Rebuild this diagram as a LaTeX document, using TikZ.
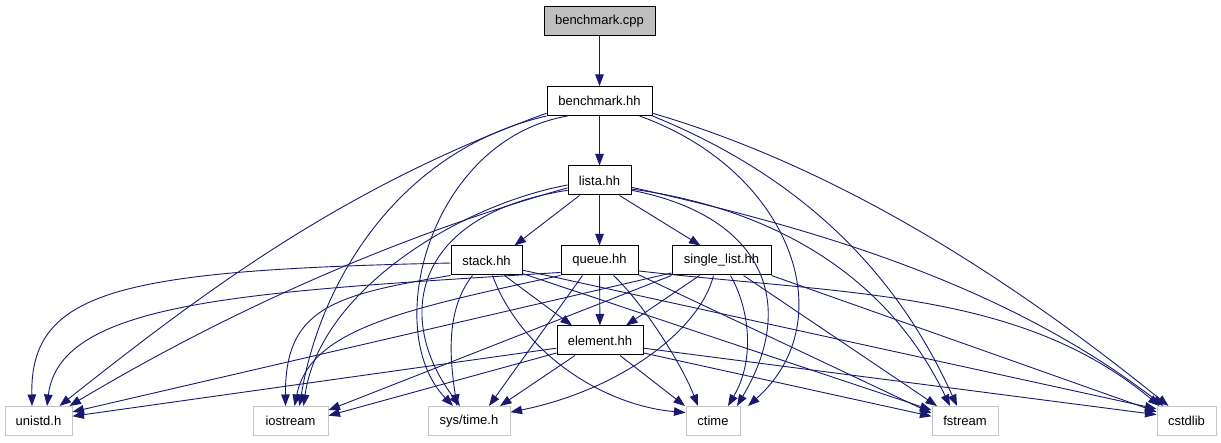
\documentclass[tikz,border=0pt]{standalone}
\usepackage{fontspec}
\setmainfont{Liberation Sans}
\usetikzlibrary{arrows.meta}
\definecolor{navy}{HTML}{191970}
\begin{document}
\begin{tikzpicture}[x = 1pt, y = 1pt, yscale = -1,
  file/.style = {draw = black, line width = 1pt, minimum height = 29pt, inner sep = 0pt,
    font = \fontsize{13}{15}\selectfont},
  sys/.style = {file, draw = gray!45},
  top/.style = {file, fill = gray!50},
  dep/.style = {draw = navy, line width = 0.9pt, -{Triangle[length = 11.5pt, width = 8.5pt]}}]
\useasboundingbox (0,0) rectangle (1221,443);
% include files
\node[top, minimum width = 111pt] (cpp) at (599.5,21) {benchmark.cpp};
\node[file, minimum width = 105pt] (bhh) at (599.5,101) {benchmark.hh};
\node[file, minimum width = 63pt] (lista) at (599.5,180.5) {lista.hh};
\node[file, minimum width = 71pt] (stack) at (486.5,260.5) {stack.hh};
\node[file, minimum width = 77pt] (queue) at (599.5,260.5) {queue.hh};
\node[file, minimum width = 99pt] (slist) at (721.5,260.5) {single\_list.hh};
\node[file, minimum width = 86pt] (elem) at (600,340.5) {element.hh};
% system headers
\node[sys, minimum width = 67pt] (unistd) at (38.5,421) {unistd.h};
\node[sys, minimum width = 75pt] (iostream) at (290.5,421) {iostream};
\node[sys, minimum width = 82pt] (systime) at (469,421) {sys/time.h};
\node[sys, minimum width = 54pt] (ctime) at (713,421) {ctime};
\node[sys, minimum width = 66pt] (fstream) at (965,421) {fstream};
\node[sys, minimum width = 59pt] (cstdlib) at (1186.5,421) {cstdlib};
% benchmark
\draw[dep] (cpp) -- (bhh);
\draw[dep] (bhh) -- (lista);
\draw[dep] (bhh.193) .. controls (348,185) and (212,285) .. ([xshift=21pt]unistd.north);
\draw[dep] (bhh.south west) .. controls (400,150) and (320,280) .. ([xshift=9pt]iostream.north);
\draw[dep] ([xshift=-32pt]bhh.south) .. controls (430,140) and (380,330) .. ([xshift=-16pt]systime.north);
\draw[dep] ([xshift=40pt]bhh.south) .. controls (790,170) and (845,320) .. ([xshift=35pt]ctime.north);
\draw[dep] (bhh.south east) .. controls (810,180) and (900,280) .. ([xshift=-8pt]fstream.north);
\draw[dep] (bhh.-13) .. controls (830,165) and (1000,270) .. ([xshift=-18pt]cstdlib.north);
% lista
\draw[dep] ([xshift=-20pt]lista.south) -- ([xshift=28pt]stack.north);
\draw[dep] (lista) -- (queue);
\draw[dep] ([xshift=20pt]lista.south) -- ([xshift=-21pt]slist.north);
\draw[dep] (lista.193) .. controls (400,235) and (230,310) .. ([xshift=31pt]unistd.north);
\draw[dep] (lista.188) .. controls (460,205) and (320,290) .. ([xshift=13pt]iostream.north);
\draw[dep] (lista.197) .. controls (410,215) and (395,320) .. ([xshift=-9pt]systime.north);
\draw[dep] (lista.-17) .. controls (760,215) and (800,300) .. ([xshift=24pt]ctime.north);
\draw[dep] (lista.-15) .. controls (750,205) and (880,260) .. ([xshift=-15pt]fstream.north);
\draw[dep] (lista.-12) .. controls (800,225) and (1000,280) .. ([xshift=-23pt]cstdlib.north);
% stack
\draw[dep] ([xshift=18pt]stack.south) -- ([xshift=-28pt]elem.north);
\draw[dep] (stack.184) .. controls (120,270) and (30,290) .. ([xshift=-6.5pt]unistd.north);
\draw[dep] (stack.south west) .. controls (330,295) and (285,310) .. ([xshift=-5pt]iostream.north);
\draw[dep] ([xshift=-14pt]stack.south) .. controls (445,310) and (450,360) .. ([xshift=-12pt]systime.north);
\draw[dep] ([xshift=6pt]stack.south) .. controls (520,350) and (600,405) .. (ctime.163);
\draw[dep] (stack.-20) -- (fstream.162);
\draw[dep] (stack.-15) -- (cstdlib.158);
% queue
\draw[dep] (queue) -- (elem);
\draw[dep] (queue.197) .. controls (250,292) and (60,300) .. ([xshift=8.5pt]unistd.north);
\draw[dep] (queue.south west) .. controls (400,310) and (310,330) .. ([xshift=4pt]iostream.north);
\draw[dep] ([xshift=-17pt]queue.south) -- ([xshift=20pt]systime.north);
\draw[dep] ([xshift=14pt]queue.south) .. controls (640,300) and (680,360) .. ([xshift=-15pt]ctime.north);
\draw[dep] (queue.-20) -- (fstream.167);
\draw[dep] (queue.-15) .. controls (850,295) and (1020,290) .. ([xshift=-27pt]cstdlib.north);
% single list
\draw[dep] ([xshift=-22pt]slist.south) -- ([xshift=26pt]elem.north);
\draw[dep] (slist.194) -- (unistd.15);
\draw[dep] (slist.south west) -- (iostream.16);
\draw[dep] ([xshift=-8pt]slist.south) .. controls (700,330) and (620,390) .. (systime.12);
\draw[dep] ([xshift=9pt]slist.south) .. controls (750,310) and (755,360) .. ([xshift=15pt]ctime.north);
\draw[dep] ([xshift=22pt]slist.south) -- ([xshift=-28pt]fstream.north);
\draw[dep] (slist.south east) -- (cstdlib.163);
% element
\draw[dep] (elem.190) -- (unistd.8);
\draw[dep] (elem.196) -- (iostream.8);
\draw[dep] ([xshift=-25pt]elem.south) -- ([xshift=31pt]systime.north);
\draw[dep] ([xshift=20pt]elem.south) -- ([xshift=-28pt]ctime.north);
\draw[dep] (elem.-16) -- (fstream.172);
\draw[dep] (elem.-10) -- (cstdlib.168);
\end{tikzpicture}
\end{document}
